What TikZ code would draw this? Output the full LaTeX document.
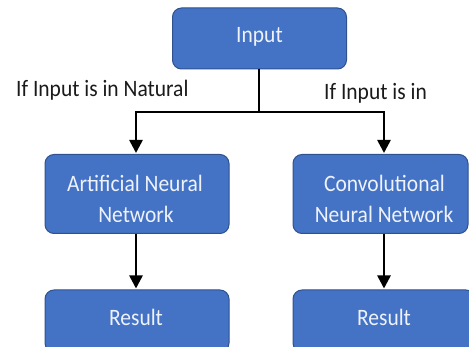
\documentclass[tikz,border=0pt]{standalone}
\usepackage{fontspec}
\setmainfont{Carlito}
\usetikzlibrary{arrows.meta}
\definecolor{boxfill}{HTML}{4472C4}
\definecolor{boxline}{HTML}{2F528F}
\definecolor{boxtext}{HTML}{EEF2FA}
\definecolor{labeltext}{HTML}{1A1A1A}
\newcommand{\narrowtext}[1]{\scalebox{0.915}[1]{#1}}
\tikzset{
  box/.style={draw=boxline, line width=1pt, fill=boxfill, rounded corners=9pt, inner sep=0pt},
  boxlabel/.style={text=boxtext, font=\fontsize{23.5}{23.5}\selectfont, inner sep=0pt, anchor=base},
  condlabel/.style={text=labeltext, font=\fontsize{23.5}{23.5}\selectfont, inner sep=0pt, anchor=base west},
  conn/.style={line width=2.6pt, draw=black},
  arr/.style={conn, -{Triangle[width=13pt,length=13pt]}, shorten >=1pt}
}
\begin{document}
\begin{tikzpicture}[x=1pt,y=-1pt]
\useasboundingbox (0,0) rectangle (469,347);
% boxes
\node[box, minimum width=174pt, minimum height=61pt] (input) at (259.5,38.5) {};
\node[box, minimum width=184pt, minimum height=79pt] (ann) at (137,194) {};
\node[box, minimum width=175pt, minimum height=79pt] (cnn) at (380.5,194) {};
\node[box, minimum width=184pt, minimum height=62pt] (res1) at (137,321) {};
\node[box, minimum width=182pt, minimum height=62pt] (res2) at (384,321) {};
% box texts
\node[boxlabel] (tin) at (259.5,43) {\narrowtext{Input}};
\begin{scope}
\clip (45,154) rectangle (468,221.6);
\node[boxlabel] (tann1) at (135,192) {\narrowtext{Artificial Neural}};
\node[boxlabel] (tann2) at (136,223) {\narrowtext{Network}};
\node[boxlabel] (tcnn1) at (384.5,192) {\narrowtext{Convolutional}};
\node[boxlabel] (tcnn2) at (384,223) {\narrowtext{Neural Network}};
\end{scope}
\node[boxlabel] (tres1) at (136,326) {\narrowtext{Result}};
\node[boxlabel] (tres2) at (384,326) {\narrowtext{Result}};
% condition labels
\node[condlabel] (c1) at (16,97) {\narrowtext{If Input is in Natural}};
\node[condlabel] (c2) at (324,100) {\narrowtext{If Input is in}};
% connectors
\coordinate (split) at (259,112);
\coordinate (sl) at (136,112);
\coordinate (sr) at (384,112);
\draw[conn] (input.south -| split) -- (split);
\draw[arr] (split) -- (sl) -- (sl |- ann.north);
\draw[arr] (split) -- (sr) -- (sr |- cnn.north);
\draw[arr] (ann.south -| sl) -- (sl |- res1.north);
\draw[arr] (cnn.south -| sr) -- (sr |- res2.north);
\end{tikzpicture}
\end{document}
